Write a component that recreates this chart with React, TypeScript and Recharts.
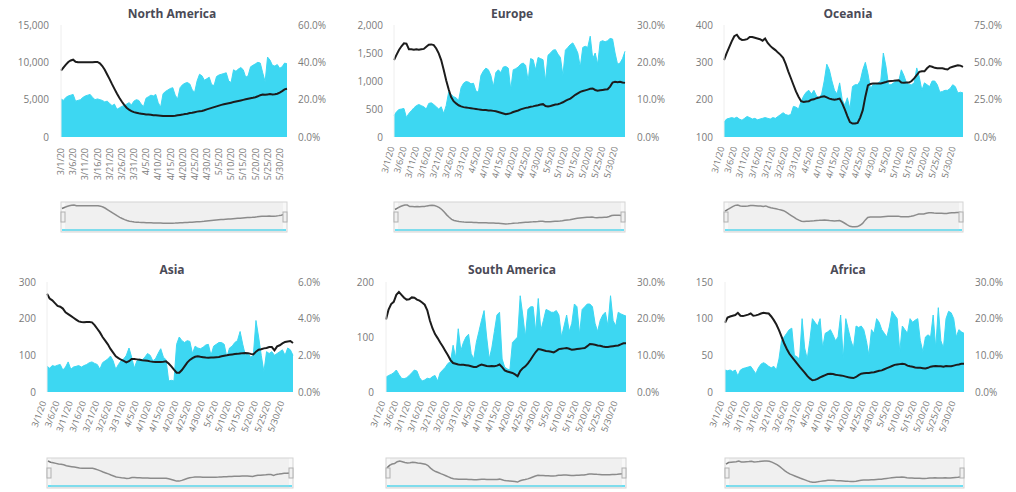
import React from 'react';
import { ComposedChart, Area, Line, XAxis, YAxis, Brush, ReferenceLine } from 'recharts';

const dates = [
  '3/1/20','3/2/20','3/3/20','3/4/20','3/5/20','3/6/20','3/7/20','3/8/20','3/9/20','3/10/20',
  '3/11/20','3/12/20','3/13/20','3/14/20','3/15/20','3/16/20','3/17/20','3/18/20','3/19/20','3/20/20',
  '3/21/20','3/22/20','3/23/20','3/24/20','3/25/20','3/26/20','3/27/20','3/28/20','3/29/20','3/30/20','3/31/20',
  '4/1/20','4/2/20','4/3/20','4/4/20','4/5/20','4/6/20','4/7/20','4/8/20','4/9/20','4/10/20',
  '4/11/20','4/12/20','4/13/20','4/14/20','4/15/20','4/16/20','4/17/20','4/18/20','4/19/20','4/20/20',
  '4/21/20','4/22/20','4/23/20','4/24/20','4/25/20','4/26/20','4/27/20','4/28/20','4/29/20','4/30/20',
  '5/1/20','5/2/20','5/3/20','5/4/20','5/5/20','5/6/20','5/7/20','5/8/20','5/9/20','5/10/20',
  '5/11/20','5/12/20','5/13/20','5/14/20','5/15/20','5/16/20','5/17/20','5/18/20','5/19/20','5/20/20',
  '5/21/20','5/22/20','5/23/20','5/24/20','5/25/20','5/26/20','5/27/20','5/28/20','5/29/20','5/30/20','5/31/20',
  '6/1/20','6/2/20',
];

// ---------- North America ----------
const naCases = [
  5100, 4900, 5300, 5500, 5600, 5700, 4800,
  4900, 5000, 5300, 5500, 5600, 5700, 5300,
  5000, 5100, 5000, 4900, 4700, 4800, 4500,
  4200, 4400, 3700, 3900, 4100, 4200, 4400,
  4600, 4300, 4800, 5000, 4900, 4400, 4100,
  5200, 5400, 5600, 5500, 5700, 4600, 4000,
  5800, 6100, 6300, 6500, 6600, 5600, 5100,
  6600, 7000, 7200, 7300, 7100, 6300, 6000,
  7500, 8400, 8200, 7600, 7800, 8000, 7000,
  6900, 8100, 8300, 8400, 8500, 8600, 7500,
  7300, 9000, 8800, 9100, 9300, 9000, 8000,
  8200, 9400, 9600, 9800, 10000, 9900, 8600,
  7400, 10700, 10300, 9600, 9500, 9700, 9200,
  9400, 9900, 9800,
];
const naPct = [
  35.5, 37.2, 38.8, 40.2, 41, 41.4, 40.3, 40, 40, 40,
  40, 40, 40, 40, 40.2, 40.2, 39.5, 38, 36, 33.5,
  31, 28.3, 25.8, 23.3, 21, 19, 17.2, 15.7, 14.6, 13.9,
  13.3, 13, 12.7, 12.5, 12.3, 12.1, 12, 11.9, 11.7, 11.6,
  11.5, 11.4, 11.3, 11.3, 11.2, 11.2, 11.3, 11.4, 11.6, 11.8,
  12, 12.3, 12.5, 12.8, 13, 13.3, 13.6, 13.8, 13.9, 14.3,
  14.8, 15.2, 15.6, 16, 16.4, 16.8, 17.2, 17.5, 17.8, 18.1,
  18.4, 18.7, 19, 19.3, 19.6, 19.9, 20.2, 20.5, 20.8, 21,
  21.3, 21.8, 22.4, 22.8, 22.6, 22.8, 23, 22.8, 22.9, 23.2,
  23.8, 24.6, 25.5, 25.8,
];

// ---------- Europe ----------
const euCases = [
  380, 450, 490, 500, 510, 350, 420,
  470, 520, 560, 580, 560, 540, 500,
  600, 610, 580, 540, 500, 540, 420,
  560, 800, 760, 720, 700, 650, 880,
  960, 990, 980, 950, 960, 820, 800,
  1100, 1180, 1230, 1200, 1100, 900, 1150,
  1200, 1150, 1250, 1260, 1230, 850, 1200,
  1220, 1250, 1300, 1320, 1280, 1000, 1400,
  1380, 1200, 1420, 1400, 1380, 1000, 1460,
  1500, 1550, 1560, 1480, 1420, 1100, 1550,
  1600, 1650, 1680, 1600, 1500, 1250, 1600,
  1620, 1600, 1800, 1400, 1500, 1300, 1700,
  1720, 1700, 1720, 1760, 1750, 1500, 1300,
  1320, 1400, 1530,
];
const euPct = [
  20.6, 22, 23.3, 24.3, 25.1, 25, 23.5, 23.5, 23.4, 23.5,
  23.4, 23.5, 23.6, 24.2, 24.7, 24.8, 24.6, 23.7, 22.4, 20.6,
  18, 15.2, 12.8, 10.7, 9.6, 9, 8.5, 8.2, 8, 7.9,
  7.8, 7.7, 7.6, 7.5, 7.4, 7.3, 7.2, 7.2, 7.1, 7.1,
  7, 6.9, 6.7, 6.5, 6.3, 6.1, 6.2, 6.4, 6.7, 6.9,
  7.1, 7.4, 7.6, 7.8, 7.9, 8.1, 8.2, 8.4, 8.5, 8.7,
  8.8, 8.3, 8.2, 8.3, 8.5, 8.7, 8.8, 9, 9.3, 9.7,
  10, 10.3, 10.8, 11.3, 11.7, 12.1, 12.3, 12.5, 12.7, 12.9,
  13, 12.6, 12.4, 12.5, 12.6, 12.7, 12.8, 13.5, 14.6, 14.8,
  14.7, 14.8, 14.6, 14.5,
];

// ---------- Oceania ----------
const ocCases = [
  140, 148, 150, 152, 150, 153, 148,
  145, 150, 155, 152, 148, 150, 146,
  148, 150, 152, 150, 148, 152, 150,
  155, 160, 165, 160, 158, 160, 182,
  180, 175, 195, 210, 220, 225, 215,
  225, 210, 205, 215, 250, 295, 280,
  250, 225, 215, 245, 200, 185, 205,
  175, 235, 240, 240, 250, 280, 300,
  270, 230, 240, 240, 245, 250, 325,
  290, 240, 240, 245, 250, 250, 280,
  265, 245, 240, 240, 245, 285, 260,
  225, 245, 240, 235, 250, 250, 240,
  220, 222, 225, 225, 230, 240, 235,
  218, 220, 218,
];
const ocPct = [
  51.5, 56, 60, 64, 67.5, 68.5, 66, 65, 65.2, 65.5,
  67, 67, 66.5, 66, 65.5, 64.5, 66, 63, 61, 59.5,
  58.2, 56.5, 55, 53, 49, 44, 39.5, 35, 30.5, 27,
  24, 23.5, 23.8, 24, 25, 25.2, 26, 26.4, 27, 27.3,
  26.5, 25.7, 25.3, 25, 25.3, 25.7, 22.5, 18.5, 14, 10,
  9, 9, 9.4, 13, 18, 27, 34.5, 35.5, 35.8, 35.8,
  35.8, 35.8, 36.3, 36.8, 37.4, 37.5, 37.6, 37.8, 38, 36.5,
  36.3, 36.5, 36.5, 37.5, 39.2, 41.5, 43.6, 44, 44, 46,
  47.5, 47, 46.3, 46, 46, 46, 45.5, 45.2, 46.5, 47,
  47.5, 48, 47.8, 47,
];

// ---------- Asia ----------
const asCases = [
  70, 65, 72, 70, 73, 75, 60,
  68, 82, 62, 68, 70, 72, 68,
  72, 75, 80, 82, 78, 75, 62,
  80, 85, 90, 98, 85, 62, 75,
  85, 90, 100, 120, 95, 65, 85,
  90, 88, 95, 105, 100, 85, 90,
  105, 118, 95, 88, 30, 32, 30,
  130, 150, 140, 135, 140, 138, 105,
  125, 120, 118, 122, 128, 130, 100,
  125, 130, 135, 135, 130, 95, 120,
  125, 135, 140, 165, 130, 100, 105,
  95, 100, 195, 150, 100, 55, 110,
  105, 110, 100, 105, 110, 115, 100,
  120, 115, 100,
];
const asPct = [
  5.36, 5.1, 5.0, 4.85, 4.7, 4.65, 4.55, 4.35, 4.25, 4.15,
  4.05, 3.95, 3.85, 3.82, 3.8, 3.82, 3.82, 3.8, 3.65, 3.45,
  3.25, 3.0, 2.8, 2.6, 2.35, 2.15, 1.95, 1.85, 1.76, 1.7,
  1.62, 1.68, 1.8, 1.8, 1.78, 1.76, 1.73, 1.72, 1.7, 1.67,
  1.65, 1.64, 1.64, 1.64, 1.65, 1.67, 1.55, 1.4, 1.22, 1.05,
  1.05, 1.2, 1.4, 1.6, 1.75, 1.85, 1.92, 1.95, 1.92, 1.9,
  1.88, 1.87, 1.88, 1.88, 1.9, 1.91, 1.95, 1.98, 2.0, 2.03,
  2.05, 2.07, 2.08, 2.1, 2.12, 2.13, 2.12, 2.08, 2.05, 2.2,
  2.31, 2.33, 2.38, 2.4, 2.45, 2.45, 2.27, 2.49, 2.55, 2.65,
  2.73, 2.76, 2.78, 2.67,
];

// ---------- South America ----------
const saCases = [
  27, 30, 32, 35, 40, 32, 25,
  24, 26, 30, 35, 40, 38, 26,
  20, 22, 25, 24, 28, 30, 20,
  35, 40, 45, 52, 55, 85, 62,
  115, 75, 90, 100, 105, 70, 60,
  90, 110, 130, 148, 100, 60, 80,
  110, 140, 145, 60, 45, 42, 40,
  90, 95, 100, 175, 140, 100, 150,
  155, 155, 110, 170, 112, 130, 150,
  148, 145, 145, 148, 140, 100, 120,
  140, 110, 125, 160, 155, 105, 150,
  155, 160, 160, 155, 125, 110, 130,
  140, 145, 120, 175, 130, 120, 145,
  142, 140, 138,
];
const saPct = [
  19.8, 22.5, 24, 24.6, 26.5, 27.3, 26.5, 25.7, 25.2, 25.3,
  25.8, 25.7, 25.2, 24.9, 24.4, 23.8, 22.3, 19.5, 17.4, 15.8,
  14.7, 13.5, 12.4, 11.2, 10, 8.7, 7.9, 7.7, 7.5, 7.4,
  7.4, 7.3, 7.2, 7, 6.8, 6.8, 7.2, 7.5, 7.3, 7.1,
  7, 7.1, 7, 7.2, 7.5, 6.8, 5.9, 5.6, 5.4, 5.2,
  4.8, 4.3, 5.7, 6.5, 7, 7.8, 8.8, 9.9, 10.9, 11.7,
  11.6, 11.4, 11.2, 11.1, 11, 10.8, 11.2, 11.7, 11.8, 11.9,
  12, 11.8, 11.5, 11.6, 11.7, 11.8, 11.9, 12, 12.5, 13.1,
  13, 12.9, 12.7, 12.6, 12.4, 12.3, 12.3, 12.4, 12.5, 12.6,
  12.7, 13, 13.3, 13.3,
];

// ---------- Africa ----------
const afCases = [
  30, 29, 30, 28, 30, 22, 30,
  32, 33, 34, 35, 30, 25, 33,
  38, 40, 38, 35, 33, 35, 30,
  45, 70, 75, 80, 85, 87, 50,
  48, 45, 100, 60, 45, 70, 100,
  95, 90, 100, 60, 80, 82, 85,
  78, 70, 75, 105, 45, 100, 85,
  70, 60, 90, 88, 90, 85, 70,
  50, 85, 80, 100, 95, 85, 80,
  75, 90, 110, 105, 100, 55, 90,
  85, 80, 100, 95, 98, 100, 70,
  55, 75, 78, 75, 105, 60, 115,
  70, 60, 100, 110, 108, 100, 75,
  85, 82, 80,
];
const afPct = [
  18.9, 20.3, 20.6, 20.8, 21, 21.6, 20.8, 20.7, 20.9, 21.1,
  21.4, 20.8, 20.9, 21.1, 21.4, 21.6, 21.5, 21.4, 20.6, 19.6,
  18.4, 16.9, 15.1, 13.3, 11.8, 10.5, 9.6, 8.7, 7.8, 6.9,
  6.1, 5.3, 4.4, 3.7, 3.2, 3.3, 3.6, 4, 4.3, 4.6,
  4.9, 5, 4.9, 4.7, 4.6, 4.5, 4.4, 4.2, 4, 3.9,
  3.8, 4.1, 4.6, 5, 5.1, 5.2, 5.2, 5.3, 5.4, 5.6,
  5.8, 5.9, 6.2, 6.5, 6.8, 7.1, 7.4, 7.5, 7.6, 7.7,
  7.6, 7.2, 7, 6.9, 6.7, 6.6, 6.6, 6.5, 6.4, 6.6,
  6.9, 7, 7.1, 7, 7, 6.9, 7.1, 7, 7, 7.2,
  7.4, 7.5, 7.7, 7.7,
];

// ---------- axis ticks ----------
const naLeftTicks = [0, 5000, 10000, 15000];
const naRightTicks = [0, 20, 40, 60];
const euLeftTicks = [0, 500, 1000, 1500, 2000];
const euRightTicks = [0, 10, 20, 30];
const ocLeftTicks = [100, 200, 300, 400];
const ocRightTicks = [0, 25, 50, 75];
const asLeftTicks = [0, 100, 200, 300];
const asRightTicks = [0, 2, 4, 6];
const saLeftTicks = [0, 100, 200];
const saRightTicks = [0, 10, 20, 30];
const afLeftTicks = [0, 50, 100, 150];
const afRightTicks = [0, 10, 20, 30];

const CYAN = '#3dd7f2';
const FONT = '"Open Sans", "Segoe UI", sans-serif';
const TICK_FILL = '#7a7a7a';

type PanelCfg = {
  title: string;
  left: number;
  top: number;
  height: number;
  mTop: number;
  mBottom: number;
  titleTop: number;
  yl: number;
  yr: number;
  lGap: number;
  rGap: number;
  xHeight: number;
  angle: number;
  tickOff: number;
  cases: number[];
  pct: number[];
  lTicks: number[];
  rTicks: number[];
};

const panels: PanelCfg[] = [
  { title: 'North America', left: 0, top: 0, height: 245, mTop: 25, mBottom: 13, titleTop: 5, yl: 61, yr: 53, lGap: 12, rGap: 11, xHeight: 65, angle: -90, tickOff: 11, cases: naCases, pct: naPct, lTicks: naLeftTicks, rTicks: naRightTicks },
  { title: 'Europe', left: 340, top: 0, height: 245, mTop: 25, mBottom: 13, titleTop: 5, yl: 54, yr: 55, lGap: 11, rGap: 12, xHeight: 65, angle: -75, tickOff: 10, cases: euCases, pct: euPct, lTicks: euLeftTicks, rTicks: euRightTicks },
  { title: 'Oceania', left: 676, top: 0, height: 245, mTop: 25, mBottom: 13, titleTop: 5, yl: 48, yr: 53, lGap: 11, rGap: 11, xHeight: 65, angle: -75, tickOff: 10, cases: ocCases, pct: ocPct, lTicks: ocLeftTicks, rTicks: ocRightTicks },
  { title: 'Asia', left: 0, top: 250, height: 242, mTop: 32, mBottom: 4, titleTop: 11, yl: 47, yr: 47, lGap: 11, rGap: 5, xHeight: 66, angle: -70, tickOff: 10, cases: asCases, pct: asPct, lTicks: asLeftTicks, rTicks: asRightTicks },
  { title: 'South America', left: 340, top: 250, height: 242, mTop: 32, mBottom: 4, titleTop: 11, yl: 46, yr: 54, lGap: 12, rGap: 11, xHeight: 66, angle: -70, tickOff: 10, cases: saCases, pct: saPct, lTicks: saLeftTicks, rTicks: saRightTicks },
  { title: 'Africa', left: 676, top: 250, height: 242, mTop: 32, mBottom: 4, titleTop: 11, yl: 49, yr: 52, lGap: 12, rGap: 11, xHeight: 66, angle: -70, tickOff: 10, cases: afCases, pct: afPct, lTicks: afLeftTicks, rTicks: afRightTicks },
];

const makeTick = (angle: number, off: number) => (props: any) => {
  const { x, y, payload } = props;
  return (
    <g transform={`translate(${x},${y})`}>
      <text
        x={-off}
        y={0}
        dy="0.35em"
        textAnchor="end"
        fill={TICK_FILL}
        fontSize={9}
        fontFamily={FONT}
        transform={`rotate(${angle})`}
      >
        {payload.value}
      </text>
    </g>
  );
};

const Traveller = (props: any) => {
  const { x, y, width, height } = props;
  return (
    <rect
      x={x}
      y={y + height / 2 - 5}
      width={width}
      height={10}
      fill="#f0f0f0"
      stroke="#b0b0b0"
      strokeWidth={1}
    />
  );
};

const fmtNum = (v: number) => v.toLocaleString('en-US');
const fmtPct = (v: number) => `${v.toFixed(1)}%`;

function Panel({ cfg }: { cfg: PanelCfg }) {
  const data = dates.map((d, i) => ({ date: d, v: cfg.cases[i], p: cfg.pct[i] }));
  const lDomain: [number, number] = [cfg.lTicks[0], cfg.lTicks[cfg.lTicks.length - 1]];
  const rDomain: [number, number] = [cfg.rTicks[0], cfg.rTicks[cfg.rTicks.length - 1]];
  return (
    <div style={{ position: 'absolute', left: cfg.left, top: cfg.top, width: 340, height: cfg.height }}>
      <div
        style={{
          position: 'absolute',
          left: 0,
          top: cfg.titleTop,
          width: 344,
          height: 18,
          lineHeight: '18px',
          textAlign: 'center',
          fontFamily: FONT,
          fontWeight: 700,
          fontSize: 12,
          color: '#4a4a56',
        }}
      >
        {cfg.title}
      </div>
      <ComposedChart
        width={340}
        height={cfg.height}
        data={data}
        margin={{ top: cfg.mTop, right: 0, bottom: cfg.mBottom, left: 0 }}
      >
        <XAxis
          dataKey="date"
          interval={4}
          tickLine={false}
          axisLine={false}
          height={cfg.xHeight}
          tickSize={0}
          tickMargin={0}
          tick={makeTick(cfg.angle, cfg.tickOff)}
        />
        <YAxis
          yAxisId="l"
          orientation="left"
          width={cfg.yl}
          domain={lDomain}
          ticks={cfg.lTicks}
          tickFormatter={fmtNum}
          tickLine={false}
          axisLine={{ stroke: '#eeeeee' }}
          tickSize={0}
          tickMargin={cfg.lGap}
          tick={{ fontSize: 10, fill: TICK_FILL, fontFamily: FONT }}
          allowDataOverflow
        />
        <YAxis
          yAxisId="r"
          orientation="right"
          width={cfg.yr}
          domain={rDomain}
          ticks={cfg.rTicks}
          tickFormatter={fmtPct}
          tickLine={false}
          axisLine={false}
          tickSize={0}
          tickMargin={cfg.rGap}
          tick={{ fontSize: 10, fill: TICK_FILL, fontFamily: FONT }}
          allowDataOverflow
        />
        <Area
          yAxisId="l"
          type="linear"
          dataKey="v"
          fill={CYAN}
          fillOpacity={1}
          stroke={CYAN}
          strokeWidth={1}
          dot={false}
          activeDot={false}
          isAnimationActive={false}
        />
        <Line
          yAxisId="r"
          type="linear"
          dataKey="p"
          stroke="#1c1c1c"
          strokeWidth={2}
          dot={false}
          activeDot={false}
          isAnimationActive={false}
        />
        <Brush
          dataKey="date"
          height={30}
          stroke="#d4d4d4"
          fill="#f8f8f8"
          travellerWidth={4}
          traveller={Traveller}
          padding={{ top: 3, bottom: 2, left: 1, right: 1 }}
        >
          <ComposedChart data={data}>
            <YAxis yAxisId="pano" hide width={0} domain={[0, 'dataMax']} />
            <ReferenceLine yAxisId="pano" y={0} stroke={CYAN} strokeWidth={1.5} />
            <Line
              yAxisId="pano"
              type="linear"
              dataKey="p"
              stroke="#7a7a7a"
              strokeWidth={1.5}
              dot={false}
              activeDot={false}
              isAnimationActive={false}
            />
          </ComposedChart>
        </Brush>
      </ComposedChart>
    </div>
  );
}

export default function App() {
  return (
    <div style={{ position: 'absolute', left: 0, top: 0, width: 1016, height: 492, background: '#ffffff' }}>
      {panels.map((p) => (
        <Panel key={p.title} cfg={p} />
      ))}
    </div>
  );
}
